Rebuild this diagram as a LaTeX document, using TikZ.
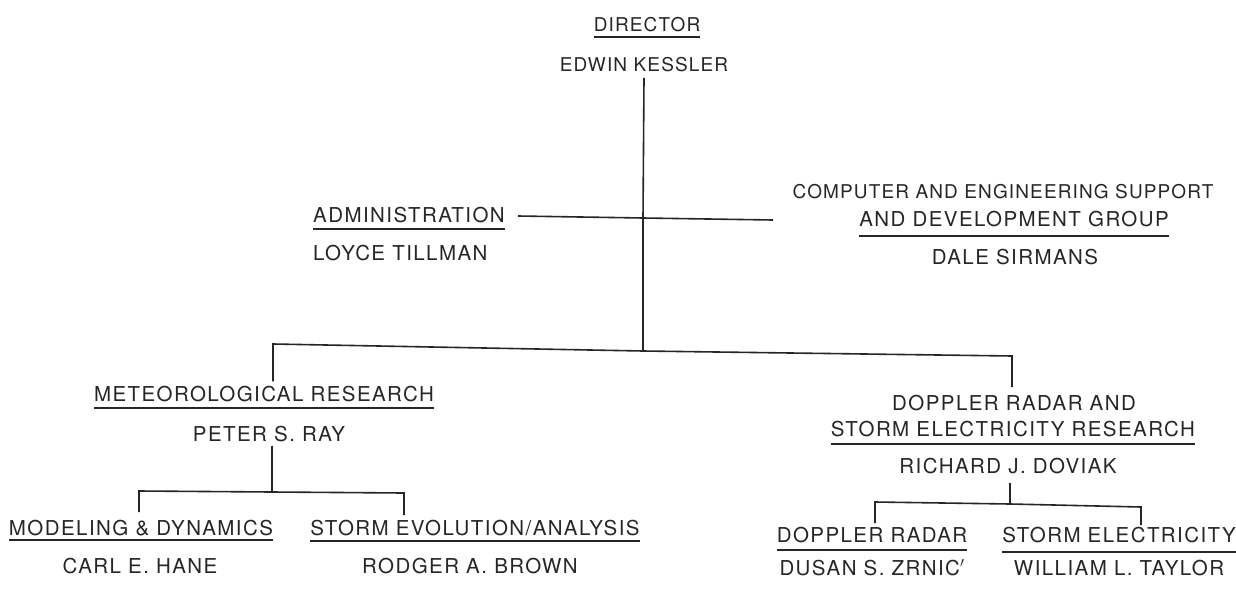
\documentclass[tikz,border=0pt]{standalone}
\usepackage{fontspec}
\setmainfont{TeX Gyre Heros}[LetterSpace=7]
\definecolor{ink}{RGB}{38,38,38}
\begin{document}
\begin{tikzpicture}[x=1pt,y=-1pt,
  lbl/.style={inner sep=0pt,anchor=base,text=ink,font=\fontsize{20.5}{24}\selectfont},
  lbls/.style={lbl,font=\fontsize{19}{22}\selectfont\addfontfeatures{LetterSpace=6}},
  lblw/.style={lbl,anchor=base west},
  conn/.style={draw=ink,line width=1.6pt},
  ul/.style={draw=ink,line width=1.6pt}]
\useasboundingbox[fill=white] (0,0) rectangle (1236,589);
% text nodes
\node[lbls] (dir) at (647,31) {DIRECTOR};
\node[lbls] (kes) at (644,71) {EDWIN KESSLER};
\node[lblw] (adm) at (313,222) {ADMINISTRATION};
\node[lblw] (till) at (313,260) {LOYCE TILLMAN};
\node[lbls] (comp1) at (1003,198) {COMPUTER AND ENGINEERING SUPPORT};
\node[lbl] (comp2) at (1014,226) {AND DEVELOPMENT GROUP};
\node[lbl] (sirm) at (1015,264) {DALE SIRMANS};
\node[lbl] (met) at (264,401) {METEOROLOGICAL RESEARCH};
\node[lbl] (ray) at (269,441) {PETER S. RAY};
\node[lbl] (dopp1) at (1014,410) {DOPPLER RADAR AND};
\node[lbl] (dopp2) at (1013,436) {STORM ELECTRICITY RESEARCH};
\node[lbl] (dov) at (1008,473) {RICHARD J. DOVIAK};
\node[lbl] (mod) at (141,535) {MODELING \& DYNAMICS};
\node[lbl] (hane) at (140,573) {CARL E. HANE};
\node[lbl] (evo) at (475,535) {STORM EVOLUTION/ANALYSIS};
\node[lbl] (brown) at (470,573) {RODGER A. BROWN};
\node[lbl] (dr) at (872,542) {DOPPLER RADAR};
\node[lbl] (se) at (1119,542) {STORM ELECTRICITY};
\node[lbl] (zrn) at (872,575) {DUSAN S. ZRNIC$'$};
\node[lbl] (tay) at (1119,575) {WILLIAM L. TAYLOR};
% underlines
\foreach \n/\d in {dir/6,adm/7,comp2/10,met/7,dopp2/8,mod/5,evo/6,dr/8,se/10}
  \draw[ul] ([yshift=-\d pt]\n.base west) -- ([yshift=-\d pt]\n.base east);
% junction coordinates
\coordinate (cross) at (643,218);
\coordinate (admend) at (518,216);
\coordinate (compend) at (773,220);
\coordinate (mid) at (643,351);
\coordinate (lcorner) at (273,344);
\coordinate (rcorner) at (1012,356);
\coordinate (raybar) at (272,492);
\coordinate (modc) at (139,491);
\coordinate (evoc) at (404,493);
\coordinate (dovbar) at (1010,504);
\coordinate (drc) at (875,502);
\coordinate (sec) at (1141,507);
% connectors
\draw[conn] (kes.south |- 0,78) -- (cross) -- (mid);
\draw[conn] (admend) -- (cross) -- (compend);
\draw[conn] (met.north -| lcorner) ++(0,-4) |- (lcorner) -- (mid) -- (rcorner) -- ++(0,31);
\draw[conn] (ray.south -| raybar) ++(0,4) -- (raybar);
\draw[conn] (modc) ++(0,21) -- (modc) -- (raybar) -- (evoc) -- ++(0,22);
\draw[conn] (dov.south -| dovbar) ++(0,9) -- (dovbar);
\draw[conn] (drc) ++(0,21) -- (drc) -- (dovbar) -- (sec) -- ++(0,18);
\end{tikzpicture}
\end{document}
